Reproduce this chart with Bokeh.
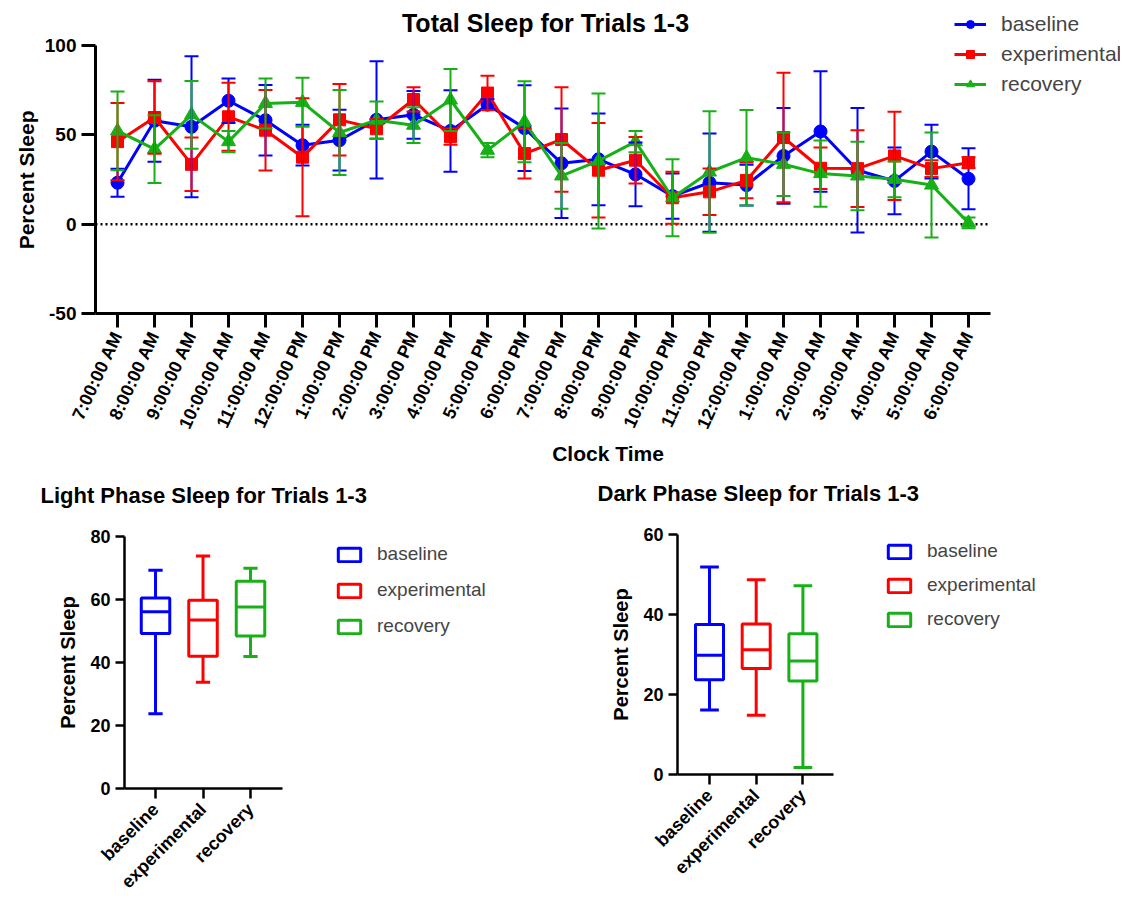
import math
from bokeh.plotting import figure
from bokeh.models import (Range1d, FixedTicker, Whisker, TeeHead, Legend,
                          LegendItem, ColumnDataSource, Label)
from bokeh.layouts import column, row
from bokeh.embed import file_html
from bokeh.resources import INLINE

FONT = "Liberation Sans"

# ---------------- data ----------------
hours = ["7:00:00 AM", "8:00:00 AM", "9:00:00 AM", "10:00:00 AM", "11:00:00 AM",
         "12:00:00 PM", "1:00:00 PM", "2:00:00 PM", "3:00:00 PM", "4:00:00 PM",
         "5:00:00 PM", "6:00:00 PM", "7:00:00 PM", "8:00:00 PM", "9:00:00 PM",
         "10:00:00 PM", "11:00:00 PM", "12:00:00 AM", "1:00:00 AM", "2:00:00 AM",
         "3:00:00 AM", "4:00:00 AM", "5:00:00 AM", "6:00:00 AM"]

baseline_mean = [23.2, 57.9, 54.5, 69.1, 58.2, 44.2, 47.0, 58.4, 61.2, 52.2, 66.9, 53.8,
                 34.1, 36.3, 27.9, 15.7, 23.2, 21.9, 38.2, 51.9, 30.2, 24.2, 40.6, 25.4]
baseline_sd = [7.8, 23.0, 39.5, 12.5, 19.7, 11.4, 17.0, 32.8, 13.4, 22.8, 3.0, 24.0,
               30.7, 25.7, 17.8, 12.6, 27.5, 11.4, 26.8, 33.7, 34.8, 18.7, 15.0, 17.1]

experimental_mean = [46.2, 59.7, 33.5, 60.1, 52.6, 37.5, 58.4, 53.4, 69.8, 49.0, 73.4, 39.5,
                     47.4, 30.2, 35.8, 14.8, 18.1, 24.5, 48.5, 31.3, 31.1, 38.2, 31.1, 34.4]
experimental_sd = [21.6, 20.3, 15.0, 19.0, 22.5, 33.0, 20.0, 5.5, 6.8, 4.5, 9.7, 14.0,
                   29.2, 26.5, 13.0, 14.6, 13.0, 10.0, 36.2, 11.6, 21.5, 24.7, 4.7, 3.0]

recovery_mean = [52.2, 42.0, 61.2, 46.2, 67.6, 68.2, 51.3, 58.2, 55.4, 69.5, 41.4, 57.3,
                 27.0, 35.4, 46.2, 14.8, 29.2, 37.2, 33.5, 28.3, 27.0, 25.1, 21.9, 0.7]
recovery_sd = [22.0, 19.0, 19.0, 6.0, 14.0, 13.7, 23.8, 10.5, 10.0, 17.4, 4.0, 22.7,
               18.4, 37.8, 6.0, 21.5, 34.0, 26.7, 17.8, 18.6, 19.2, 10.0, 29.4, 3.0]

groups = ["baseline", "experimental", "recovery"]
colors = ["#0000ff", "#ff0000", "#17b017"]

light_min = [23.7, 33.7, 41.9]
light_q1 = [49.2, 42.0, 48.4]
light_median = [56.1, 53.5, 57.6]
light_q3 = [60.5, 59.8, 65.8]
light_max = [69.3, 73.8, 69.9]

dark_min = [16.1, 14.8, 1.75]
dark_q1 = [23.7, 26.5, 23.4]
dark_median = [29.8, 31.2, 28.4]
dark_q3 = [37.5, 37.6, 35.2]
dark_max = [51.9, 48.7, 47.2]


def style_axes(p, tick_font, label_font, line_w, tick_out):
    for ax in (p.xaxis[0], p.yaxis[0]):
        ax.axis_line_width = line_w
        ax.axis_line_color = "black"
        ax.major_tick_line_width = line_w
        ax.major_tick_line_color = "black"
        ax.major_tick_out = tick_out
        ax.major_tick_in = 0
        ax.minor_tick_line_color = None
        ax.major_label_text_font = FONT
        ax.major_label_text_font_style = "bold"
        ax.major_label_text_font_size = tick_font
        ax.major_label_text_color = "black"
        ax.axis_label_text_font = FONT
        ax.axis_label_text_font_style = "bold"
        ax.axis_label_text_font_size = label_font
        ax.axis_label_text_color = "black"
    p.grid.visible = False
    p.outline_line_color = None


# ---------------- top chart ----------------
X_LO, X_HI = -0.595, 23.595
top = figure(width=1120, height=471, output_backend="svg", toolbar_location=None,
             x_range=Range1d(X_LO, 27.108), y_range=Range1d(-50, 122.4),
             min_border_left=95, min_border_right=0, min_border_top=5,
             min_border_bottom=158)
style_axes(top, "18px", "21px", 3, 14)
top.yaxis.major_label_text_font_size = "19px"
top.xaxis.ticker = FixedTicker(ticks=list(range(len(hours))))
top.xaxis.major_label_overrides = {i: h for i, h in enumerate(hours)}
top.xaxis.major_label_orientation = math.radians(65)
top.xaxis.bounds = (X_LO, X_HI)
top.yaxis.ticker = FixedTicker(ticks=[-50, 0, 50, 100])
top.yaxis.major_label_overrides = {-50: "-50", 0: "0", 50: "50", 100: "100"}
top.yaxis.bounds = (-50, 100)
top.xaxis.axis_label = "Clock Time"
# trailing no-break spaces keep the label centred on the -50..100 axis
top.yaxis.axis_label = "Percent Sleep" + "\u00a0" * 7
top.xaxis.axis_label_standoff = 3
top.yaxis.axis_label_standoff = 4
top.yaxis.major_label_standoff = 5

top.add_layout(Label(x=450, y=291, x_units="screen", y_units="screen",
                     text="Total Sleep for Trials 1-3", text_align="center",
                     text_baseline="middle", text_font=FONT, text_font_size="25px",
                     text_font_style="bold", text_color="black"))

top.segment(x0=[X_LO], y0=[0], x1=[X_HI], y1=[0], line_color="black",
            line_dash="2 3", line_width=2.5)

xs = list(range(len(hours)))
series = [(baseline_mean, baseline_sd, "circle", 13),
          (experimental_mean, experimental_sd, "square", 12),
          (recovery_mean, recovery_sd, "triangle", 14)]
items = []
for (mean, sd, marker, size), color, name in zip(series, colors, groups):
    src = ColumnDataSource(dict(x=xs, y=mean,
                                upper=[m + s for m, s in zip(mean, sd)],
                                lower=[m - s for m, s in zip(mean, sd)]))
    top.add_layout(Whisker(source=src, base="x", upper="upper", lower="lower",
                           line_color=color, line_width=2, level="glyph",
                           upper_head=TeeHead(size=14, line_color=color, line_width=2),
                           lower_head=TeeHead(size=14, line_color=color, line_width=2)))
    lr = top.line("x", "y", source=src, line_color=color, line_width=3)
    sr = top.scatter("x", "y", source=src, marker=marker, size=size,
                     fill_color=color, line_color=color)
    items.append(LegendItem(label=name, renderers=[lr, sr]))

leg = Legend(items=items, location=(859, 217), glyph_width=32, glyph_height=20,
             label_height=20, spacing=6, padding=0, margin=0, label_standoff=15,
             label_text_font=FONT, label_text_font_size="21px",
             border_line_color=None, background_fill_alpha=0)
top.add_layout(leg)


# ---------------- box charts ----------------
def box_chart(title, vmin, q1, med, q3, vmax, xr, xb, yr, yticks, borders, width,
              title_offset, leg_loc, leg_spacing, cap_w):
    p = figure(width=width, height=431, output_backend="svg", toolbar_location=None,
               x_range=Range1d(*xr), y_range=Range1d(*yr),
               min_border_left=borders[0], min_border_right=borders[1],
               min_border_top=borders[2], min_border_bottom=borders[3],
               title=title + "\n")
    p.title.align = "left"
    p.title.offset = title_offset
    p.title.standoff = 7
    p.title.text_font = FONT
    p.title.text_font_size = "22px"
    p.title.text_font_style = "bold"
    p.title.text_color = "black"
    style_axes(p, "18px", "20px", 2.5, 9)
    p.xaxis.ticker = FixedTicker(ticks=[0, 1, 2])
    p.xaxis.major_label_overrides = {i: g for i, g in enumerate(groups)}
    p.xaxis.major_label_orientation = math.pi / 4
    p.xaxis.major_tick_out = 10
    p.xaxis.major_label_standoff = 8
    p.xaxis.bounds = xb
    p.yaxis.ticker = FixedTicker(ticks=yticks)
    p.yaxis.axis_label = "Percent Sleep"
    p.yaxis.axis_label_standoff = 8

    x = [0, 1, 2]
    src = ColumnDataSource(dict(x=x, q1=q1, q3=q3, med=med, vmin=vmin, vmax=vmax,
                                color=colors,
                                xl=[v - 0.3 for v in x], xr=[v + 0.3 for v in x],
                                cl=[v - cap_w / 2 for v in x],
                                cr=[v + cap_w / 2 for v in x]))
    p.segment("x", "q3", "x", "vmax", source=src, line_color="color", line_width=3)
    p.segment("x", "q1", "x", "vmin", source=src, line_color="color", line_width=3)
    p.segment("cl", "vmax", "cr", "vmax", source=src, line_color="color", line_width=3)
    p.segment("cl", "vmin", "cr", "vmin", source=src, line_color="color", line_width=3)
    p.segment("xl", "med", "xr", "med", source=src, line_color="color", line_width=3)
    br = p.vbar(x="x", width=0.6, bottom="q1", top="q3", source=src,
                fill_color="white", fill_alpha=0, line_color="color", line_width=3)
    its = [LegendItem(label=g, renderers=[br], index=i) for i, g in enumerate(groups)]
    lg = Legend(items=its, location=leg_loc, glyph_width=28, glyph_height=17,
                label_height=20, spacing=leg_spacing, padding=0, margin=0,
                label_standoff=14, label_text_font=FONT, label_text_font_size="19px",
                border_line_color=None, background_fill_alpha=0)
    p.add_layout(lg)
    return p


light = box_chart("Light Phase Sleep for Trials 1-3", light_min, light_q1, light_median,
                  light_q3, light_max, (-0.653, 8.526), (-0.653, 2.674), (0, 80),
                  [0, 20, 40, 60, 80], (124, 0, 65, 111), 560, -84,
                  (211, 151), 14, 0.3)
dark = box_chart("Dark Phase Sleep for Trials 1-3", dark_min, dark_q1, dark_median,
                 dark_q3, dark_max, (-0.685, 8.8), (-0.685, 2.657), (0, 60),
                 [0, 20, 40, 60], (117, 0, 63, 128), 560, -80,
                 (208, 144), 12, 0.4)

layout = column(top, row(column(light), column(dark)))
open("out.html", "w").write(file_html(layout, INLINE))
